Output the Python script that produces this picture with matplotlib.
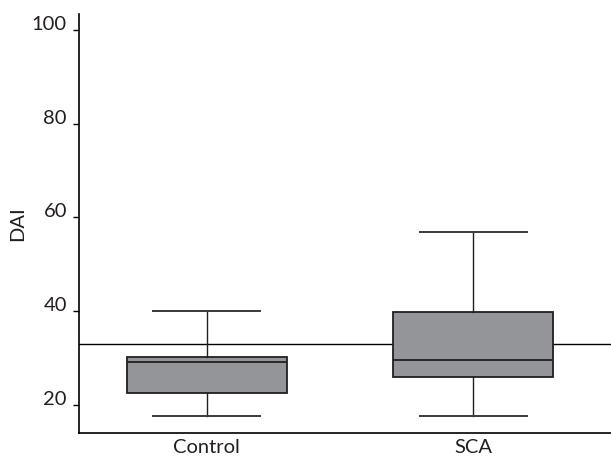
import matplotlib
matplotlib.use('Agg')
import matplotlib.pyplot as plt

plt.rcParams['font.family'] = ['Lato', 'DejaVu Sans']

# group names and box statistics
groups = ['Control', 'SCA']
whisker_low = [17.7, 17.7]
q1 = [22.6, 25.9]
median = [29.1, 29.5]
q3 = [30.3, 39.9]
whisker_high = [40.0, 56.9]
reference_value = 33
y_ticks = [20, 40, 60, 80, 100]

stats = []
for i, name in enumerate(groups):
    stats.append({
        'label': name,
        'whislo': whisker_low[i],
        'q1': q1[i],
        'med': median[i],
        'q3': q3[i],
        'whishi': whisker_high[i],
        'fliers': [],
    })

text_color = '#231f20'

fig = plt.figure(figsize=(6.11, 4.61), dpi=100)
ax = fig.add_axes([0.1288, 0.0607, 0.8712, 0.9089])

ax.axhline(reference_value, color='black', lw=1.0, zorder=1)

ax.bxp(stats, positions=[1, 2], widths=0.6, capwidths=0.4,
       patch_artist=True, showfliers=False,
       boxprops=dict(facecolor='#939598', edgecolor='#231f20', linewidth=1.3),
       medianprops=dict(color='#231f20', linewidth=1.3),
       whiskerprops=dict(color='#231f20', linewidth=1.0),
       capprops=dict(color='#3a3a3c', linewidth=1.4),
       zorder=2)

ax.set_xlim(0.52, 2.516)
ax.set_ylim(14, 103.4)
ax.set_yticks(y_ticks)
ax.set_xticks([1, 2])
ax.set_xticklabels(groups, fontsize=14.5)
ax.tick_params(axis='x', length=0, pad=4, labelcolor=text_color)
ax.tick_params(axis='y', length=4.5, width=1.0, pad=4, labelsize=14.5,
               labelcolor=text_color)
for lab in ax.get_yticklabels():
    lab.set_verticalalignment('baseline')

ax.set_ylabel('DAI', fontsize=14.5, color=text_color, labelpad=4)

ax.spines['top'].set_visible(False)
ax.spines['right'].set_visible(False)
ax.spines['left'].set_linewidth(1.2)
ax.spines['bottom'].set_linewidth(1.2)

fig.savefig('out.png', dpi=100)
